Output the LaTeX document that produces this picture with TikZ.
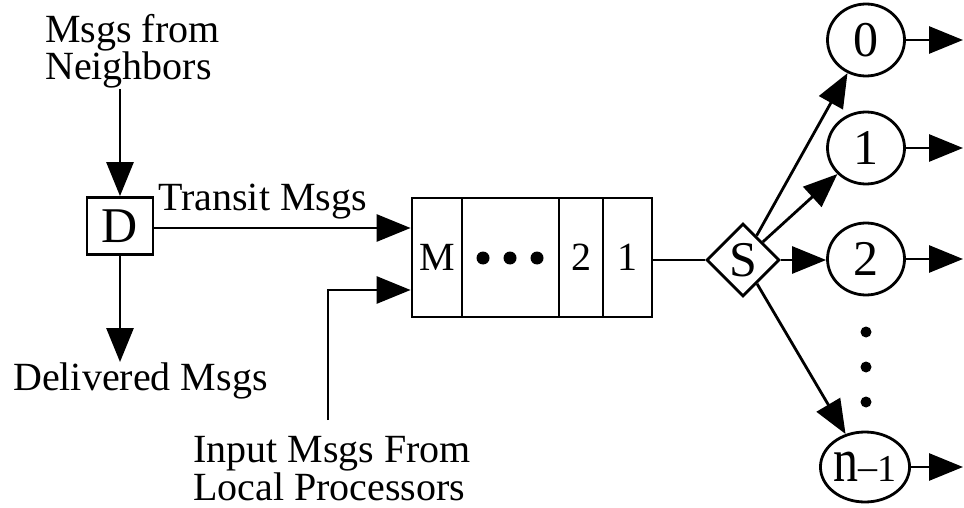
\documentclass[tikz,border=0pt]{standalone}
\usepackage{fontspec}
\setmainfont{Liberation Serif}
\usetikzlibrary{arrows.meta,shapes.geometric}
\begin{document}
\begin{tikzpicture}[x=1pt,y=-1pt,
  every node/.style={font=\fontsize{40}{35}\selectfont},
  big/.style={font=\fontsize{50}{50}\selectfont},
  lw/.style={line width=2.8pt},
  arr/.style={lw,-{Triangle[length=34pt,width=27pt]}},
  boxd/.style={draw,lw,rectangle,minimum width=66pt,minimum height=57pt,inner sep=0pt,big},
  cell/.style={draw,lw,rectangle,minimum height=119pt,inner sep=0pt},
  circ/.style={draw,lw,ellipse,minimum width=77pt,minimum height=72pt,inner sep=0pt,big},
  diam/.style={draw,lw,diamond,minimum width=73pt,minimum height=73pt,inner sep=0pt,big},
  lbl/.style={anchor=base west,inner sep=0pt,align=left}]
\useasboundingbox (0,0) rectangle (964,508);

% labels
\node[lbl] (nb) at (45,80) {Msgs from\\Neighbors};
\node[lbl] (tr) at (158,210) {Transit Msgs};
\node[lbl] (dl) at (13,390) {Delivered Msgs};
\node[lbl] (inl) at (193,500) {Input Msgs From\\Local Processors};

% D box
\node[boxd] (D) at (120,226) {D};

% queue cells
\node[cell,minimum width=50pt] (cM) at (437,257.5) {M};
\node[cell,minimum width=97pt] (cD) at (510.5,257.5) {};
\node[cell,minimum width=44pt] (c2q) at (581,257.5) {2};
\node[cell,minimum width=49pt] (c1q) at (627.5,257.5) {1};
\fill (483,258) circle (6.5pt);
\fill (510,258) circle (6.5pt);
\fill (537,258) circle (6.5pt);

% switch
\node[diam] (S) at (743,260) {S};

% output circles
\node[circ] (c0) at (866,40) {0};
\node[circ] (c1) at (866,148) {1};
\node[circ] (c2) at (866,259) {2};
\node[circ,minimum width=83pt,minimum height=70pt] (cn) at (865,467)
  {\scalebox{1}[1.25]{n}{\fontsize{38}{38}\selectfont\raisebox{2pt}{–}1}};
\fill (866,332) circle (5.5pt);
\fill (866,367) circle (5.5pt);
\fill (866,402) circle (5.5pt);

% coordinates
\coordinate (tin) at ([yshift=29.5pt]cM.west);
\coordinate (lin) at ([yshift=-32.5pt]cM.west);
\coordinate (inp) at (328,420);
\coordinate (o0) at (963,40);
\coordinate (o1) at (963,148);
\coordinate (o2) at (963,259);
\coordinate (on) at (963,467);

% connectors
\draw[arr] (D.north |- nb.south) -- (D.north);
\draw[arr] (D.south) -- (D.south |- dl.north);
\draw[arr] (D.east |- tin) -- (tin);
\draw[arr] (inp) |- (lin);
\draw[lw] (c1q.east |- S.west) -- (S.west);
\draw[arr] (S) -- (c0);
\draw[arr] (S) -- (c1);
\draw[arr] (S.east) -- (c2.west |- S.east);
\draw[arr] (S) -- (cn);
\draw[arr] (c0.east) -- (o0);
\draw[arr] (c1.east) -- (o1);
\draw[arr] (c2.east) -- (o2);
\draw[arr] (cn.east) -- (on);
\end{tikzpicture}
\end{document}
